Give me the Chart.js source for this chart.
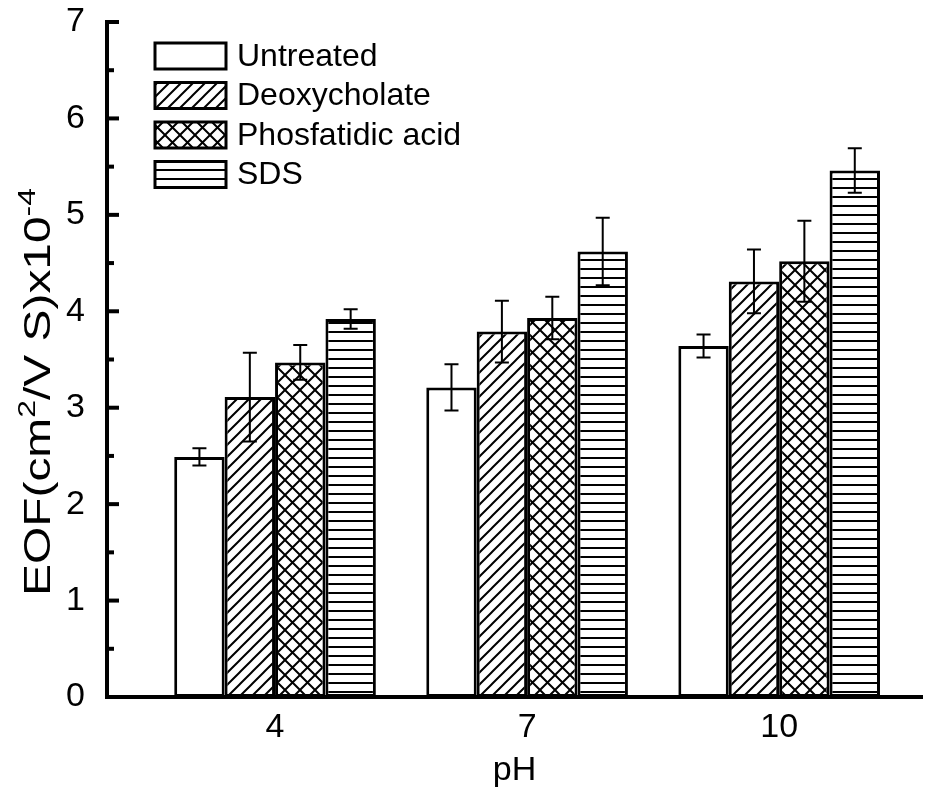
<!DOCTYPE html>
<html>
<head>
<meta charset="utf-8">
<script src="https://cdn.jsdelivr.net/npm/chart.js@4.4.1/dist/chart.umd.min.js"></script>
<style>
  html, body { margin: 0; padding: 0; background: #fff; }
  #wrap { width: 936px; height: 806px; }
</style>
</head>
<body>
<div id="wrap"><canvas id="myChart"></canvas></div>
<script>
// pH groups and series
const phValues = [4, 7, 10];
const seriesNames = ['Untreated', 'Deoxycholate', 'Phosfatidic acid', 'SDS'];

const untreated    = [2.49, 3.21, 3.64];
const deoxycholate = [3.11, 3.79, 4.31];
const phosfatidic  = [3.47, 3.93, 4.52];
const sds          = [3.92, 4.62, 5.46];

const untreatedErr    = [0.09, 0.24, 0.12];
const deoxycholateErr = [0.46, 0.32, 0.33];
const phosfatidicErr  = [0.18, 0.22, 0.42];
const sdsErr          = [0.10, 0.35, 0.23];

const yTicks = [0, 1, 2, 3, 4, 5, 6, 7];

const FONT = 'Liberation Sans, Arial, sans-serif';

// hatch fills
function makePattern(kind) {
    const c = document.createElement('canvas');
    const ctx = c.getContext('2d');
    if (kind === 'none') {
        return '#fff';
    }
    if (kind === 'diag') {
        c.width = 12; c.height = 12;
        ctx.fillStyle = '#fff'; ctx.fillRect(0, 0, 12, 12);
        ctx.strokeStyle = '#000'; ctx.lineWidth = 2;
        ctx.beginPath();
        ctx.moveTo(-3, 15); ctx.lineTo(15, -3);
        ctx.moveTo(-3, 3); ctx.lineTo(3, -3);
        ctx.moveTo(9, 15); ctx.lineTo(15, 9);
        ctx.stroke();
    } else if (kind === 'cross') {
        c.width = 15; c.height = 15;
        ctx.fillStyle = '#fff'; ctx.fillRect(0, 0, 15, 15);
        ctx.strokeStyle = '#000'; ctx.lineWidth = 2;
        ctx.beginPath();
        ctx.moveTo(-2, 17); ctx.lineTo(17, -2);
        ctx.moveTo(-2, -2); ctx.lineTo(17, 17);
        ctx.stroke();
    } else if (kind === 'horiz') {
        c.width = 8; c.height = 9;
        ctx.fillStyle = '#fff'; ctx.fillRect(0, 0, 8, 9);
        ctx.fillStyle = '#000'; ctx.fillRect(0, 7, 8, 2);
    }
    return ctx.createPattern(c, 'repeat');
}

const fills = [makePattern('none'), makePattern('diag'), makePattern('cross'), makePattern('horiz')];
const seriesValues = [untreated, deoxycholate, phosfatidic, sds];
const seriesErrors = [untreatedErr, deoxycholateErr, phosfatidicErr, sdsErr];

// error bars on top of each bar
const errorBars = {
    id: 'errorBars',
    afterDatasetsDraw(chart) {
        const ctx = chart.ctx;
        const y = chart.scales.y;
        ctx.save();
        ctx.strokeStyle = '#000';
        ctx.lineWidth = 2;
        chart.data.datasets.forEach((ds, i) => {
            const meta = chart.getDatasetMeta(i);
            meta.data.forEach((bar, j) => {
                const v = seriesValues[i][j];
                const e = seriesErrors[i][j];
                const top = y.getPixelForValue(v + e);
                const bot = y.getPixelForValue(v - e);
                ctx.beginPath();
                ctx.moveTo(bar.x, top); ctx.lineTo(bar.x, bot);
                ctx.moveTo(bar.x - 7, top); ctx.lineTo(bar.x + 7, top);
                ctx.moveTo(bar.x - 7, bot); ctx.lineTo(bar.x + 7, bot);
                ctx.stroke();
            });
        });
        ctx.restore();
    }
};

// inward tick marks on the value axis
const innerTicks = {
    id: 'innerTicks',
    afterDraw(chart) {
        const ctx = chart.ctx;
        const y = chart.scales.y;
        const left = chart.chartArea.left;
        ctx.save();
        ctx.strokeStyle = '#000';
        ctx.lineWidth = 4;
        for (let v = 0; v <= 7; v += 0.5) {
            const py = y.getPixelForValue(v);
            const len = Number.isInteger(v) ? 12 : 7;
            ctx.beginPath();
            ctx.moveTo(left, py); ctx.lineTo(left + len, py);
            ctx.stroke();
        }
        ctx.restore();
    }
};

// y title with superscripts, legend inside plot
const labels = {
    id: 'labels',
    afterDraw(chart) {
        const ctx = chart.ctx;
        ctx.save();
        // axis title
        const parts = [
            { t: 'EOF(cm', sup: false },
            { t: '2', sup: true },
            { t: '/V S)x10', sup: false },
            { t: '-4', sup: true }
        ];
        const main = '36px ' + FONT, small = '24px ' + FONT;
        let total = 0;
        parts.forEach(p => { ctx.font = p.sup ? small : main; p.w = ctx.measureText(p.t).width; total += p.w; });
        ctx.translate(50, 392);
        ctx.rotate(-Math.PI / 2);
        ctx.scale(1.33, 1);
        ctx.fillStyle = '#000';
        ctx.textBaseline = 'alphabetic';
        let x = -total / 2;
        parts.forEach(p => {
            ctx.font = p.sup ? small : main;
            ctx.fillText(p.t, x, p.sup ? -15 : 0);
            x += p.w;
        });
        ctx.restore();

        // legend
        ctx.save();
        const rowY = [56, 95.5, 135, 174.5];
        chart.data.datasets.forEach((ds, i) => {
            const cy = rowY[i];
            ctx.fillStyle = ds.backgroundColor;
            ctx.fillRect(155, cy - 13, 71, 26);
            ctx.strokeStyle = '#000';
            ctx.lineWidth = 3;
            ctx.strokeRect(155, cy - 13, 71, 26);
            ctx.fillStyle = '#000';
            ctx.font = '32px ' + FONT;
            ctx.textBaseline = 'middle';
            ctx.textAlign = 'left';
            ctx.fillText(ds.label, 237, cy + 1);
        });
        ctx.restore();
    }
};

const data = {
    datasets: seriesNames.map((name, i) => ({
        label: name,
        data: phValues.map((ph, j) => ({ x: ph, y: seriesValues[i][j] })),
        backgroundColor: fills[i],
        borderColor: '#000',
        borderWidth: 3,
        borderSkipped: false,
        categoryPercentage: 0.8,
        barPercentage: 1.0
    }))
};

const config = {
    type: 'bar',
    data: data,
    options: {
        responsive: false,
        animation: false,
        layout: { padding: { left: 0, top: 22, right: 14, bottom: 0 } },
        plugins: {
            legend: { display: false },
            tooltip: { enabled: false }
        },
        scales: {
            x: {
                type: 'linear',
                min: 2,
                max: 11.7,
                offset: false,
                grid: { display: false, drawTicks: false, offset: false },
                border: { display: true, color: '#000', width: 4 },
                afterBuildTicks: s => { s.ticks = phValues.map(v => ({ value: v })); },
                afterFit: s => { s.height = 806 - 697; s.paddingLeft = 0; s.paddingRight = 0; },
                ticks: {
                    padding: 10,
                    color: '#000',
                    font: { size: 34, family: FONT }
                },
                title: {
                    display: true,
                    text: 'pH',
                    color: '#000',
                    font: { size: 34, family: FONT },
                    padding: { top: 0, bottom: 15 }
                }
            },
            y: {
                min: 0,
                max: 7,
                grid: { display: false, drawTicks: false },
                border: { display: true, color: '#000', width: 4 },
                afterBuildTicks: s => { s.ticks = yTicks.map(v => ({ value: v })); },
                afterFit: s => { s.width = 107; s.paddingTop = 0; s.paddingBottom = 0; },
                ticks: {
                    padding: 22,
                    color: '#000',
                    font: { size: 34, family: FONT }
                }
            }
        }
    },
    plugins: [errorBars, innerTicks, labels]
};

const canvas = document.getElementById('myChart');
canvas.width = 936;
canvas.height = 806;
const myChart = new Chart(canvas, config);
</script>
</body>
</html>
